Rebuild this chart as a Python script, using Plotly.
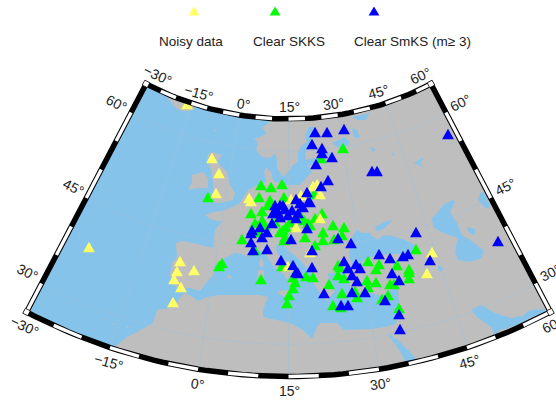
import math
import plotly.graph_objects as go

# ---------- station positions (map x, map y) ----------
noisy_x = [187,212,219,216,89,249,251,301,291,313,317,320,320,296,310,288,180,194,177,174,181,173,432,427]
noisy_y = [104,158,173,193,247,198,201,195,199,186,184,194,218,227,252,266,261,270,271,279,287,302,252,273]

skks_x = [208,261,271,282,259,270,284,251,262,268,262,255,242,255,222,219,261,343,321,314,322,315,333,344,310,308,
          286,283,280,285,284,305,323,323,334,342,315,282,338,340,338,344,293,295,293,289,287,306,313,329,342,355,357,
          333,341,368,379,376,397,409,409,409,390,394,376,367,368,388,382,399,416,265,258,275,290,300,304]
skks_y = [197,185,187,184,197,200,197,213,211,205,220,223,239,250,263,266,279,148,158,194,213,218,225,227,225,223,
          227,230,232,237,240,237,232,240,239,235,245,266,265,267,275,278,277,282,288,295,303,276,277,284,293,291,297,
          305,307,261,264,269,265,269,272,278,284,284,282,280,287,295,299,308,249,225,232,222,222,215,220]

smks_x = [315,327,344,312,322,322,332,316,372,377,448,328,321,307,296,310,300,303,308,298,296,275,280,273,278,285,288,
          280,272,307,260,252,251,267,262,251,253,267,291,338,351,312,281,293,296,298,312,344,356,360,348,352,357,324,
          352,365,341,348,379,390,403,408,392,399,385,399,400,416,430,498,283,276,292]
smks_y = [132,132,129,144,148,153,157,164,171,171,134,180,186,192,199,202,203,207,202,213,218,205,205,213,212,209,215,
          217,223,228,227,230,233,232,237,242,250,249,239,238,243,250,260,265,272,273,267,261,264,268,268,275,281,293,
          292,292,305,305,254,258,256,254,273,280,300,314,329,232,260,241,205,209,210]

# ---------- legend ----------
legend_labels = ["Noisy data", "Clear SKKS", "Clear SmKS (m\u2265 3)"]
legend_x = [194, 275, 374]
legend_text_x = [191, 289, 412]

# ---------- coastlines (map x, map y) ----------
land_main = [(272,60),(272,120),(262,128),(267,133),(258,138),(254,138),(258,143),(256,150),(262,157),(270,158),(275,153),
 (277,160),(277,168),(283,177),(290,170),(293,165),(298,162),(298,152),(302,145),(307,142),(305,135),(309,127),(313,127),
 (312,135),(310,147),(305,153),(306,160),(315,158),(325,154),(332,152),(325,160),(315,163),(308,166),(312,172),(306,178),
 (300,185),(287,185),(280,183),(275,182),(273,180),(271,172),(266,167),(264,172),(266,182),(258,185),(248,190),(242,200),
 (240,203),(232,207),(222,211),(214,212),(205,215),(210,219),(222,222),(215,230),(213,248),(193,243),(182,241),(176,243),
 (176,245),(177,257),(172,263),(170,275),(172,283),(180,290),(185,288),(190,288),(200,291),(207,282),(213,275),(215,265),
 (225,258),(235,253),(242,254),(248,257),(257,252),(260,250),(266,255),(268,258),(274,267),(284,275),(289,282),(292,292),
 (295,287),(296,283),(299,277),(302,282),(306,278),(300,272),(294,268),(288,263),(281,256),(277,254),(276,246),(282,243),
 (286,248),(296,257),(303,263),(311,273),(313,282),(320,293),(327,301),(331,296),(335,291),(330,282),(328,274),(343,271),
 (345,277),(350,286),(352,295),(360,296),(370,293),(382,296),(390,290),(398,289),(399,306),(398,314),(396,324),(385,327),
 (372,329),(344,330),(337,323),(320,323),(317,327),(312,339),(303,330),(290,323),(275,320),(263,317),(263,310),(268,297),
 (260,295),(247,295),(232,295),(218,295),(207,297),(198,301),(193,297),(185,293),(182,295),(173,307),(157,310),(153,323),
 (137,332),(127,337),(115,347),(115,400),(556,400),(556,60)]
land_islands = [
 [(167,97),(172,103),(176,108),(182,111),(190,111),(196,107),(194,103),(178,97)],
 [(212,152),(222,155),(217,162),(227,172),(230,185),(235,193),(233,200),(220,203),(207,202),(213,193),(213,185),(212,172),(207,160),(208,155)],
 [(192,175),(203,172),(208,178),(208,188),(197,188),(188,190),(192,182)],
 [(262,258),(264,264),(262,268),(259,266),(259,261)],
 [(258,270),(264,270),(264,280),(261,284),(257,282)],
 [(227,275),(232,276),(231,278),(228,278)],
 [(277,291),(288,290),(287,297),(280,295)],
 [(334,308),(350,306),(350,309),(336,311)],
 [(378,304),(388,299),(389,303),(382,306)],
 [(103,318),(105,319),(104,320)],[(112,323),(115,324),(113,325)],[(117,327),(119,328),(117,329)],[(126,327),(129,326),(128,328)],
 [(79,236),(81,237),(79,238)],[(215,129),(216,131),(214,131)],
]
water_inland = [
 [(357,230),(353,235),(350,245),(349,255),(352,265),(357,267),(365,259),(378,255),(390,254),(403,254),(411,253),(415,245),
  (405,240),(392,236),(384,235),(378,240),(372,236),(370,233),(362,233)],
 [(377,232),(385,228),(393,219),(385,222),(375,227)],
 [(453,200),(444,204),(438,212),(432,218),(433,227),(443,233),(452,236),(458,238),(456,246),(455,252),(458,260),(470,262),
  (482,258),(483,250),(473,242),(462,235),(457,223),(450,212),(455,202)],
 [(467,227),(475,229),(475,235),(469,233)],
 [(480,193),(478,200),(485,208),(490,208),(488,200),(484,192)],
 [(471,310),(481,305),(495,313),(511,318),(523,316),(530,310),(546,309),(548,313),(530,318),(518,325),(508,328),(500,330),
  (495,335),(491,327),(478,318)],
 [(385,332),(396,345),(404,358),(406,368),(422,366),(410,352),(398,340),(393,338),(392,333),(390,337)],
 [(332,143),(345,137),(350,143),(342,150)],
 [(352,128),(357,130),(360,138),(354,137)],
 [(369,147),(376,149),(374,152)],
 [(352,117),(370,113),(365,120),(358,120)],
 [(438,265),(443,268),(442,272),(438,270)],
 [(392,152),(395,154),(394,157)],
 [(414,163),(424,157),(420,164),(425,168)],
]

# ---------- map projection geometry (conic frame) ----------
CX, APEX_Y = 288.5, -188.0
RHO_N, RHO_S = 307.0, 564.5      # band radii at 65N and 25N
LAT_N, LAT_S, LON_W, LON_E, LON_0 = 65.0, 25.0, -30.0, 60.0, 15.0
CONE = 0.6144
OCEAN, LAND, GRID = "#86c3eb", "#bebebe", "#9fc0d8"
BAND_W, WHITE_W = 5.5, 3.4


def polar(rho, lon):
    t = math.radians(CONE * (lon - LON_0))
    return CX + rho * math.sin(t), APEX_Y + rho * math.cos(t)


def rho_of(lat):
    return RHO_N + (LAT_N - lat) * (RHO_S - RHO_N) / (LAT_N - LAT_S)


def proj(lon, lat):
    return polar(rho_of(lat), lon)


def parallel(lat, lon1, lon2, n=60):
    return [proj(lon1 + (lon2 - lon1) * i / n, lat) for i in range(n + 1)]


def meridian(lon, lat1, lat2):
    return [proj(lon, lat1), proj(lon, lat2)]


def xy(points):
    return [p[0] for p in points], [p[1] for p in points]


def with_gaps(paths):
    xs, ys = [], []
    for p in paths:
        a, b = xy(p)
        xs += a + [None]
        ys += b + [None]
    return xs, ys


def triangles(cx, cy, half_w=5.9, half_h=5.2):
    paths = []
    for x, y in zip(cx, cy):
        paths.append([(x - half_w, y + half_h), (x + half_w, y + half_h), (x, y - half_h), (x - half_w, y + half_h)])
    return with_gaps(paths)


fig = go.Figure()


def poly(paths, color, name):
    xs, ys = with_gaps(paths)
    fig.add_trace(go.Scatter(x=xs, y=ys, mode="lines", fill="toself", fillcolor=color, line=dict(width=0),
                             hoverinfo="skip", name=name))


def line(paths, color, width, name):
    xs, ys = with_gaps(paths)
    fig.add_trace(go.Scatter(x=xs, y=ys, mode="lines", line=dict(color=color, width=width), hoverinfo="skip", name=name))


outline = parallel(LAT_N, LON_W, LON_E) + parallel(LAT_S, LON_E, LON_W)
outline.append(outline[0])

poly([outline], OCEAN, "ocean")
poly([land_main] + land_islands, LAND, "land")
poly(water_inland, OCEAN, "water")

# graticule
grid_paths = [meridian(lon, LAT_S, LAT_N) for lon in range(-15, 60, 15)]
grid_paths += [parallel(lat, LON_W, LON_E) for lat in (30, 45, 60)]
line(grid_paths, GRID, 0.5, "graticule")

# stations: green, then yellow, then blue on top
for cx, cy, col, nm in [(skks_x, skks_y, "#00ff00", legend_labels[1]),
                        (noisy_x, noisy_y, "#ffff66", legend_labels[0]),
                        (smks_x, smks_y, "#0000ff", legend_labels[2])]:
    xs, ys = triangles(cx, cy)
    fig.add_trace(go.Scatter(x=xs, y=ys, mode="lines", fill="toself", fillcolor=col, line=dict(width=0), hoverinfo="skip", name=nm))

# white mask round the sector: sheet clockwise, hole anticlockwise
sheet = [(-5, -5), (561, -5), (561, 405), (-5, 405), (-5, -5)]
poly([sheet + outline[::-1] + [(-5, -5)]], "#ffffff", "mask")

# legend triangles
for lx, col in zip(legend_x, ["#ffff66", "#00ff00", "#0000ff"]):
    xs, ys = triangles([lx], [11], 5.4, 4.6)
    fig.add_trace(go.Scatter(x=xs, y=ys, mode="lines", fill="toself", fillcolor=col, line=dict(width=0), hoverinfo="skip"))

# fancy frame
line([outline], "#000000", BAND_W, "frame")
white_segments = []
for k in range(1, 18, 2):
    a, b = LON_W + 5 * k, LON_W + 5 * (k + 1)
    white_segments.append(parallel(LAT_N, a, b, 6))
    white_segments.append(parallel(LAT_S, a, b, 6))
for k in range(1, 8, 2):
    a, b = LAT_N - 5 * k, LAT_N - 5 * (k + 1)
    white_segments.append(meridian(LON_W, a, b))
    white_segments.append(meridian(LON_E, a, b))
line(white_segments, "#ffffff", WHITE_W, "frame white")

# corners
corners = []
for lat, lon in [(LAT_N, LON_W), (LAT_N, LON_E), (LAT_S, LON_W), (LAT_S, LON_E)]:
    r = rho_of(lat)
    d = 2.8
    dl = math.degrees(d / r) / CONE
    corners.append([polar(r - d, lon - dl), polar(r - d, lon + dl), polar(r + d, lon + dl), polar(r + d, lon - dl), polar(r - d, lon - dl)])
xs, ys = with_gaps(corners)
fig.add_trace(go.Scatter(x=xs, y=ys, mode="lines", fill="toself", fillcolor="#ffffff",
                         line=dict(color="#000000", width=0.8), hoverinfo="skip", name="corners"))

# tick labels: text, x, y, angle
tick_text = ["\u221230\u00b0", "\u221215\u00b0", "0\u00b0", "15\u00b0", "30\u00b0", "45\u00b0", "60\u00b0",
             "\u221230\u00b0", "\u221215\u00b0", "0\u00b0", "15\u00b0", "30\u00b0", "45\u00b0", "60\u00b0",
             "60\u00b0", "45\u00b0", "30\u00b0", "60\u00b0", "45\u00b0", "30\u00b0"]
tick_x = [157, 198, 243, 289, 333, 378, 420, 24, 108, 197, 289, 380, 469, 552, 116, 73, 27, 460, 505, 550]
tick_y = [75, 93, 104, 107, 104, 92, 76, 326, 362, 384, 391, 384, 362, 325, 103, 187, 272, 103, 187, 273]
tick_a = [25, 16, 8, 0, -8, -16, -25, 25, 16, 8, 0, -8, -16, -25, 27, 27, 27, -27, -27, -27]

annotations = [dict(x=x, y=y, text=t, textangle=a, showarrow=False, xref="x", yref="y",
                    font=dict(family="Liberation Sans", size=14, color="#222222"))
               for t, x, y, a in zip(tick_text, tick_x, tick_y, tick_a)]
annotations += [dict(x=x, y=41, text=t, showarrow=False, xref="x", yref="y",
                     font=dict(family="Liberation Sans", size=13.5, color="#222222"))
                for t, x in zip(legend_labels, legend_text_x)]

fig.update_layout(width=556, height=400, margin=dict(l=0, r=0, t=0, b=0), showlegend=False,
                  paper_bgcolor="white", plot_bgcolor="white", annotations=annotations,
                  xaxis=dict(range=[0, 556], visible=False, fixedrange=True),
                  yaxis=dict(range=[400, 0], visible=False, fixedrange=True))
fig.write_html("out.html", config=dict(displayModeBar=False), post_script="document.body.style.margin='0';")
